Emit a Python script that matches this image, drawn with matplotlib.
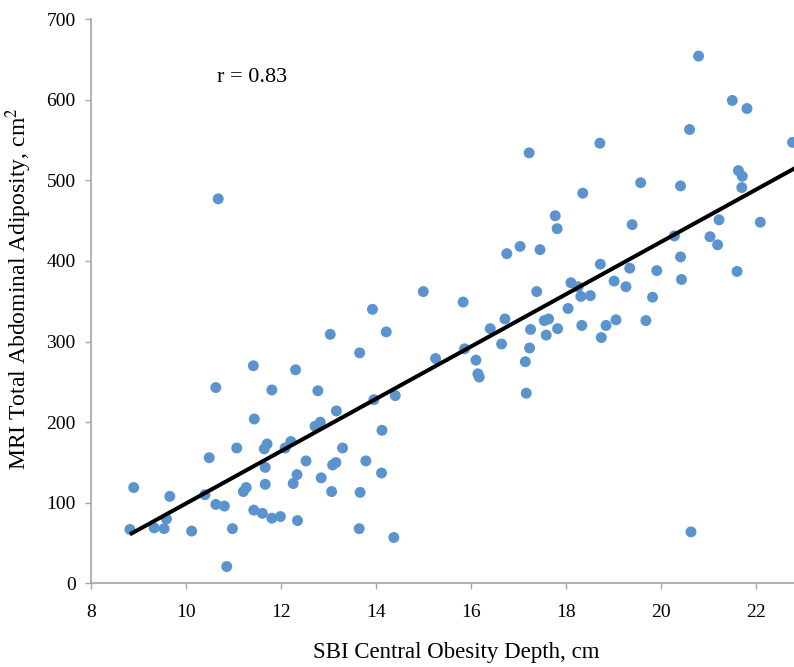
import numpy as np
import matplotlib
matplotlib.use("Agg")
import matplotlib.pyplot as plt

# SBI central obesity depth (cm) vs MRI total abdominal adiposity (cm^2)
depth_cm = [
    8.90, 8.82, 9.33, 9.54, 9.59, 9.66, 10.12, 10.40, 10.49, 10.63,
    10.63, 10.81, 10.86, 10.98, 11.07, 11.21, 11.27, 11.42, 11.44, 11.43,
    11.61, 11.67, 11.67, 11.65, 11.71, 11.81, 11.81, 11.99, 12.09, 12.21,
    12.26, 12.34, 12.31, 12.35, 12.53, 12.72, 12.83, 12.78, 12.85, 10.68,
    16.76, 15.00, 15.84, 13.93, 13.04, 14.22, 13.66, 15.26, 15.87, 16.11,
    16.15, 16.18, 16.41, 16.72, 16.65, 17.39, 17.26, 17.24, 17.15, 17.17,
    17.55, 17.64, 17.59, 17.83, 13.17, 13.96, 14.41, 14.13, 13.30, 13.79,
    13.16, 13.09, 14.12, 13.07, 13.67, 13.65, 14.38, 17.23, 17.04, 17.46,
    21.64, 21.72, 21.71, 19.58, 20.42, 18.36, 17.78, 17.82, 19.40, 22.10,
    21.23, 20.29, 21.04, 21.20, 20.42, 18.73, 19.35, 19.92, 21.61, 18.11,
    18.26, 19.02, 19.27, 20.44, 18.32, 18.52, 19.83, 18.05, 18.34, 18.85,
    19.06, 18.75, 19.69, 20.80, 21.51, 21.82, 20.61, 18.72, 22.78, 20.64,
]
adiposity_cm2 = [
    119, 67, 69, 68, 80, 108, 65, 110, 156, 243,
    98, 96, 21, 68, 168, 114, 119, 270, 204, 91,
    87, 144, 123, 167, 173, 240, 81, 83, 168, 176,
    124, 135, 265, 78, 152, 195, 200, 239, 131, 477,
    409, 362, 349, 340, 309, 312, 286, 279, 291, 277,
    260, 256, 316, 328, 297, 362, 315, 292, 275, 236,
    326, 328, 308, 316, 214, 228, 233, 190, 168, 152,
    150, 147, 137, 114, 113, 68, 57, 534, 418, 414,
    512, 505, 491, 497, 493, 484, 456, 440, 445, 448,
    451, 431, 430, 420, 405, 396, 391, 388, 387, 373,
    368, 375, 368, 377, 356, 357, 355, 341, 320, 320,
    327, 305, 326, 654, 599, 589, 563, 546, 547, 64,
]
r_label = "r = 0.83"
x_ticks = [8, 10, 12, 14, 16, 18, 20, 22]
y_ticks = [0, 100, 200, 300, 400, 500, 600, 700]

_BLUE = "#5b93cf"
_AXIS = "#a6a6a6"

plt.rcParams["font.family"] = ["Liberation Serif", "DejaVu Serif"]
plt.rcParams["mathtext.fontset"] = "stix"

x = np.array(depth_cm)
y = np.array(adiposity_cm2)

fig = plt.figure(figsize=(7.94, 6.67), dpi=100)
ax = fig.add_axes([0.1146, 0.1252, 1 - 0.1146, 0.9715 - 0.1252])

ax.scatter(x, y, s=62, color=_BLUE, edgecolors="none", zorder=3)

# least-squares trend line, from the first point out past the right edge
slope, intercept = np.polyfit(x, y, 1)
xl = np.array([x.min(), 24.0])
ax.plot(xl, slope * xl + intercept, color="black", lw=2.9, zorder=4,
        solid_capstyle="butt")

ax.set_xlim(8, 22.81)
ax.set_ylim(0, 700)
ax.set_xticks(x_ticks)
ax.set_yticks(y_ticks)
ax.tick_params(axis="both", direction="out", length=4, width=1,
               color=_AXIS, labelsize=14, labelcolor="black")
ax.tick_params(axis="x", pad=11)
ax.tick_params(axis="y", pad=7)

for side in ("top", "right"):
    ax.spines[side].set_visible(False)
for side in ("left", "bottom"):
    ax.spines[side].set_color(_AXIS)
    ax.spines[side].set_linewidth(1.2)

ax.set_xlabel("SBI Central Obesity Depth, cm", fontsize=16.5, labelpad=15)
ax.set_ylabel("MRI Total Abdominal Adiposity, cm$^2$", fontsize=17, labelpad=9)
# the source chart was cropped on the right, so its labels sit off-centre
ax.xaxis.label.set_x(0.52)
ax.yaxis.label.set_y(0.523)

ax.text(11.39, 628, r_label, fontsize=16, ha="center", va="center")

fig.savefig("out.png", dpi=100)
plt.close(fig)
